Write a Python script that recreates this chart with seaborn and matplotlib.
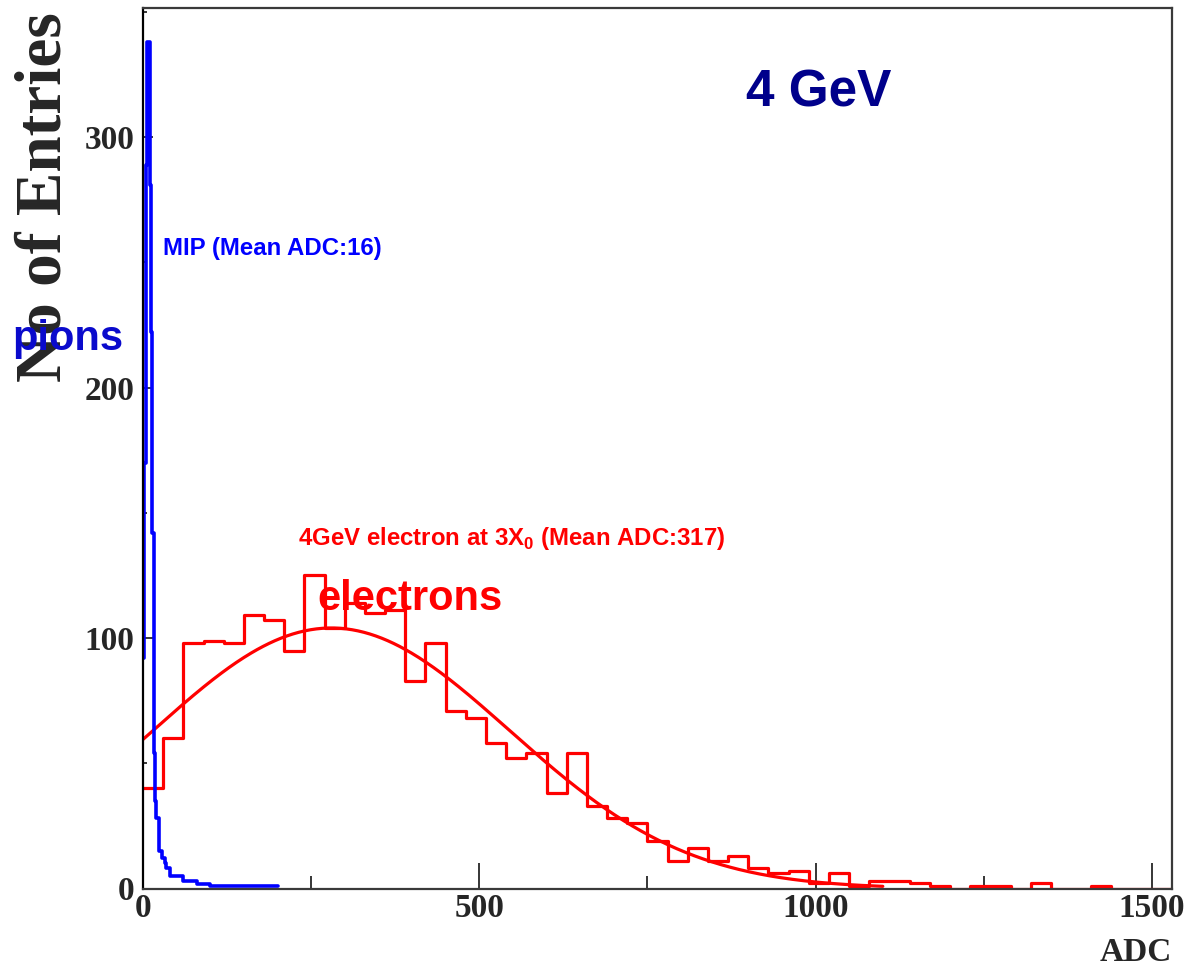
import numpy as np
import pandas as pd
import matplotlib
matplotlib.use("Agg")
import matplotlib.pyplot as plt
import seaborn as sns

# ---------------- data ----------------
# electron (red) histogram: 30-ADC bins from 0 to 1530
red_bin_width = 30
red_counts = [40, 60, 98, 99, 98, 109, 107, 95, 125, 104,
              114, 110, 111, 83, 98, 71, 68, 58, 52, 54,
              38, 54, 33, 28, 26, 19, 11, 16, 11, 13,
              8, 6, 7, 2, 6, 1, 3, 3, 2, 1,
              0, 1, 1, 0, 2, 0, 0, 1, 0, 0, 0]

# pion / MIP (blue) histogram: 2-ADC bins 0..40, then 20-ADC bins 40..200
blue_fine_width = 2
blue_counts_fine = [92, 170, 289, 338, 338, 281, 222, 142, 54, 35,
                    28, 28, 15, 15, 12, 12, 10, 8, 8, 8]
blue_tail_width = 20
blue_counts_tail = [4.8, 2.8, 1.6, 0.8, 0.8, 0.8, 0.8, 0.8]

# gaussian fit drawn over the electron histogram
fit_amp, fit_mean, fit_sigma = 104.0, 280.0, 265.0
fit_range = (0, 1100)

x_ticks = [0, 500, 1000, 1500]
y_ticks = [0, 100, 200, 300]
x_max, y_max = 1530, 351.5

# ---------------- style ----------------
sns.set_style("white")
plt.rcParams["font.family"] = ["Liberation Sans", "DejaVu Sans"]
plt.rcParams["mathtext.fontset"] = "custom"
plt.rcParams["mathtext.rm"] = "Liberation Sans:bold"
plt.rcParams["mathtext.bf"] = "Liberation Sans:bold"

W, H = 1191, 967
fig = plt.figure(figsize=(W / 100, H / 100), dpi=100)
fig.patch.set_facecolor("white")
ax_l, ax_r, ax_t, ax_b = 143, 1172, 8, 888.5
ax = fig.add_axes([ax_l / W, (H - ax_b) / H, (ax_r - ax_l) / W, (ax_b - ax_t) / H])
ax.set_facecolor("white")

# red histogram
red_edges = [float(i * red_bin_width) for i in range(len(red_counts) + 1)]
red_df = pd.DataFrame({"adc": [(a + b) / 2 for a, b in zip(red_edges[:-1], red_edges[1:])],
                       "count": [float(c) for c in red_counts]})
sns.histplot(data=red_df, x="adc", weights="count", bins=red_edges, element="step",
             fill=False, color="#ff0000", linewidth=2.3, ax=ax)

# gaussian fit
fx = np.linspace(fit_range[0], fit_range[1], 500)
fy = fit_amp * np.exp(-0.5 * ((fx - fit_mean) / fit_sigma) ** 2)
sns.lineplot(x=fx, y=fy, color="#ff0000", linewidth=2.3, ax=ax)

# blue histogram
n_fine = len(blue_counts_fine)
tail_start = n_fine * blue_fine_width
blue_edges = ([float(i * blue_fine_width) for i in range(n_fine)] +
              [float(tail_start + i * blue_tail_width) for i in range(len(blue_counts_tail) + 1)])
blue_df = pd.DataFrame({"adc": [(a + b) / 2 for a, b in zip(blue_edges[:-1], blue_edges[1:])],
                        "count": [float(c) for c in blue_counts_fine + blue_counts_tail]})
sns.histplot(data=blue_df, x="adc", weights="count", bins=blue_edges, element="step",
             fill=False, color="#0000ff", linewidth=2.6, ax=ax)

ax.set_xlim(0, x_max)
ax.set_ylim(0, y_max)
ax.set_xlabel("")
ax.set_ylabel("")

# ticks (ROOT style, inward)
ax.set_xticks(x_ticks)
ax.set_yticks(y_ticks)
ax.set_xticks([250, 750, 1250], minor=True)
ax.set_yticks([50, 150, 250, 350], minor=True)
ax.tick_params(axis="x", which="major", direction="in", length=18.5, width=1.1,
               color="black", pad=3, bottom=True, top=False)
ax.tick_params(axis="x", which="minor", direction="in", length=9.4, width=1.1,
               color="black", bottom=True, top=False)
ax.tick_params(axis="y", which="major", direction="in", length=7.2, width=1.1,
               color="black", pad=6, left=True, right=False)
ax.tick_params(axis="y", which="minor", direction="in", length=3.0, width=1.1,
               color="black", left=True, right=False)
for lab in ax.get_xticklabels() + ax.get_yticklabels():
    lab.set_fontfamily("Liberation Serif")
    lab.set_fontweight("bold")
    lab.set_fontsize(24)
for s in ax.spines.values():
    s.set_visible(True)
    s.set_color("#3a3a3a")
    s.set_linewidth(1.6)
ax.spines["left"].set_color("black")

# annotations
ax.text(896, 312, "4 GeV", color="#00008b", fontsize=37, fontweight="bold",
        ha="left", va="baseline")
ax.text(29.7, 252.9, "MIP (Mean ADC:16)", color="#0000ff", fontsize=17.3,
        fontweight="bold", ha="left", va="baseline")
ax.text(230, 137.1, r"4GeV electron at 3X$_{0}$ (Mean ADC:317)", color="#ff0000",
        fontsize=17.3, fontweight="bold", ha="left", va="baseline")
ax.text(259.6, 111.2, "electrons", color="#ff0000", fontsize=30,
        fontweight="bold", ha="left", va="baseline")

fig.text(44.5 / W, (H - 197.5) / H, "No of Entries", rotation=90, ha="center",
         va="center", family="Liberation Serif", fontweight="bold", fontsize=47)
fig.text(1172 / W, (H - 961) / H, "ADC", ha="right", va="baseline",
         family="Liberation Serif", fontweight="bold", fontsize=24)
fig.text(12 / W, (H - 350) / H, "pions", color="#0a0acc", fontsize=30,
         fontweight="bold", ha="left", va="baseline")

fig.savefig("out.png", dpi=100, facecolor="white")
